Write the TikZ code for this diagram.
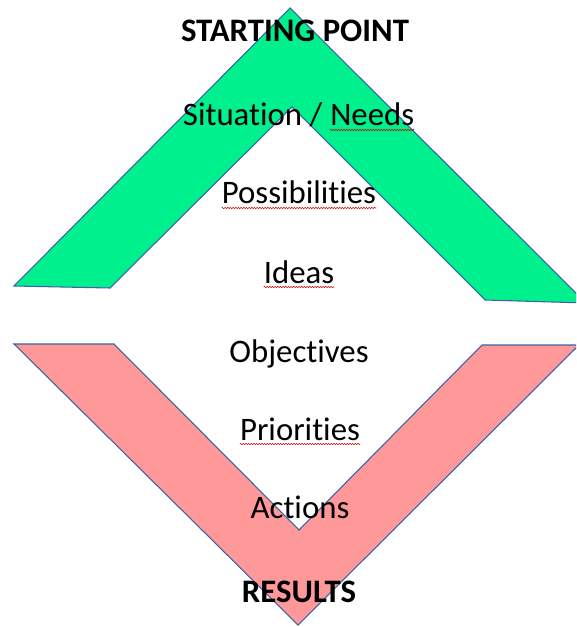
\documentclass[tikz,border=0pt]{standalone}
\usepackage{fontspec}
\setmainfont{Carlito}[Ligatures=NoCommon]
\usepackage{tikz}
\usetikzlibrary{positioning, decorations.pathmorphing}
\definecolor{upgreen}{RGB}{0,240,142}
\definecolor{downred}{RGB}{255,153,153}
\definecolor{edgeblue}{RGB}{58,98,168}

\begin{document}
\begin{tikzpicture}[
    x=0.75pt, y=-0.75pt,
    chevron/.style = {draw=edgeblue, line width=0.8pt, line join=miter},
    word/.style = {anchor=base, inner sep=0pt,
        font=\fontsize{24.6}{29}\selectfont},
    headword/.style = {word, font=\fontsize{24.6}{29}\selectfont\bfseries},
    squiggle/.style = {draw=red!80!black, line width=0.4pt,
        decorate, decoration={snake, segment length=2pt, amplitude=0.5pt}}
]
\useasboundingbox (0,0) rectangle (576,627);
\clip (0,0) rectangle (576,627);

% ---- Upward chevron ----
\filldraw[chevron, fill=upgreen] (290,8) -- (14,286) -- (110,288) -- (292,107)
    -- (485,300) -- (586,303) -- cycle;

% ---- Downward chevron ----
\filldraw[chevron, fill=downred] (14,344) -- (114,344) -- (299,530) -- (482,345)
    -- (579,345) -- (298,625) -- cycle;

% ---- Steps ----
\node[headword] (start) at (295,42) {STARTING POINT};
\node[word, anchor=base east] (situation) at (330,126) {Situation /\ \mbox{}};
\node[word, anchor=base west] (needs) at (situation.base east) {Needs};
\node[word] (possib) at (299,204) {Possibilities};
\node[word] (ideas) at (299,283) {Ideas};
\node[word] (object) at (299,362) {Objectives};
\node[word] (prior) at (300,440) {Priorities};
\node[word] (actions) at (300,518) {Actions};
\node[headword] (results) at (299,602) {RESULTS};

% ---- Spelling marks ----
\foreach \w in {needs, possib, ideas, prior}
    \draw[squiggle] ([yshift=-3pt]\w.base west) -- ([yshift=-3pt]\w.base east);

\end{tikzpicture}
\end{document}
